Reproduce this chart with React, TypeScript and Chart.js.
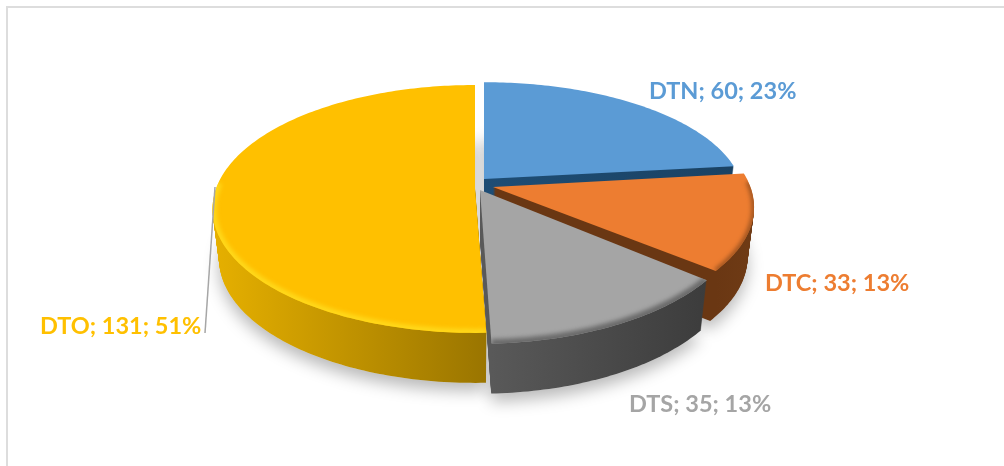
import { useEffect, useRef } from "react";
import { Chart, registerables } from "chart.js";

Chart.register(...registerables);

const categories = ["DTN", "DTC", "DTS", "DTO"];
const seriesValues = [60, 33, 35, 131];
const percentLabels = [23, 13, 13, 51];
const sliceColors = ["#5B9BD5", "#ED7D31", "#A5A5A5", "#FFC000"];

// Drawing layout of the tilted pie (not data).
const VIEW = { cx: 481, cy: 187, rx: 264, ry: 120.4, persp: 0.169, depth: 50, baseShrink: 0.025 };
const SLICE_STYLE = [
  { dx: 3, dy: -8, sx: 0.97, sy: 0.93, sideFrom: "#1E4D75", sideTo: "#1A4263", rim: null, rimWidth: 0 },
  { dx: 12, dy: 0, sx: 0.975, sy: 0.985, sideFrom: "#6A3713", sideTo: "#6F3B15", rim: "#9A5220", rimWidth: 5 },
  { dx: -1, dy: 3, sx: 0.985, sy: 1.05, sideFrom: "#595959", sideTo: "#3C3C3C", rim: "#6A6A6A", rimWidth: 9 },
  { dx: -6, dy: 1, sx: 0.98, sy: 1, sideFrom: "#E6B000", sideTo: "#9A7500", rim: "#FFD81A", rimWidth: 8 },
];
const LABEL_POS = [
  { x: 649, y: 99 },
  { x: 765, y: 291 },
  { x: 629, y: 412 },
  { x: 40, y: 334 },
];

type Pt = { x: number; y: number };

function project(i: number, a: number, r: number, z: number): Pt {
  const s = SLICE_STYLE[i];
  const u = Math.cos(a) * r * s.sx;
  const v = Math.sin(a) * r * s.sy;
  const w = 1 - VIEW.persp * v;
  const shrink = 1 - (VIEW.baseShrink * z) / VIEW.depth;
  return {
    x: VIEW.cx + s.dx + ((VIEW.rx * u) / w) * shrink,
    y: VIEW.cy + s.dy + (VIEW.ry * v) / w + z,
  };
}

function arcAngles(start: number, end: number): number[] {
  const n = Math.max(4, Math.ceil(((end - start) * 180) / Math.PI));
  const out: number[] = [];
  for (let k = 0; k <= n; k++) out.push(start + ((end - start) * k) / n);
  return out;
}

function slicePath(ctx: CanvasRenderingContext2D, i: number, angles: number[], z: number) {
  const tip = project(i, 0, 0, z);
  ctx.beginPath();
  ctx.moveTo(tip.x, tip.y);
  for (const a of angles) {
    const p = project(i, a, 1, z);
    ctx.lineTo(p.x, p.y);
  }
  ctx.closePath();
}

const pie3d = {
  id: "pie3d",
  beforeDatasetsDraw(chart: any) {
    const ctx: CanvasRenderingContext2D = chart.ctx;
    const arcs = chart.getDatasetMeta(0).data;
    const all = arcs.map((el: any) => arcAngles(el.startAngle, el.endAngle));

    // frame
    ctx.save();
    ctx.strokeStyle = "#DDDDDD";
    ctx.lineWidth = 2;
    ctx.beginPath();
    ctx.moveTo(7, 466);
    ctx.lineTo(7, 7);
    ctx.lineTo(1004, 7);
    ctx.stroke();
    ctx.restore();

    // soft ground shadow
    ctx.save();
    ctx.shadowColor = "rgba(0,0,0,0.28)";
    ctx.shadowBlur = 16;
    ctx.shadowOffsetY = 8;
    ctx.fillStyle = "#DEDEDE";
    for (let i = 0; i < arcs.length; i++) {
      slicePath(ctx, i, all[i], VIEW.depth);
      ctx.fill();
    }
    ctx.restore();

    for (let i = 0; i < arcs.length; i++) {
      const s = SLICE_STYLE[i];
      const xs = all[i].map((a: number) => project(i, a, 1, 0).x);
      const grad = ctx.createLinearGradient(Math.min(...xs), 0, Math.max(...xs), 0);
      grad.addColorStop(0, s.sideFrom);
      grad.addColorStop(1, s.sideTo);
      ctx.fillStyle = grad;
      for (let z = VIEW.depth; z > 0; z--) {
        slicePath(ctx, i, all[i], z);
        ctx.fill();
      }
      slicePath(ctx, i, all[i], 0);
      ctx.fillStyle = arcs[i].options.backgroundColor;
      ctx.fill();
      if (s.rim) {
        ctx.save();
        slicePath(ctx, i, all[i], 0);
        ctx.clip();
        ctx.filter = "blur(2px)";
        ctx.strokeStyle = s.rim;
        ctx.lineWidth = s.rimWidth;
        ctx.beginPath();
        let started = false;
        for (const a of all[i]) {
          if (Math.sin(a) < -0.05) continue;
          const p = project(i, a, 1, 0);
          if (!started) ctx.moveTo(p.x, p.y);
          else ctx.lineTo(p.x, p.y);
          started = true;
        }
        ctx.stroke();
        ctx.restore();
      }
    }

    // leader line
    ctx.save();
    ctx.strokeStyle = "#A6A6A6";
    ctx.lineWidth = 1.5;
    ctx.beginPath();
    ctx.moveTo(215, 187);
    ctx.lineTo(205, 333);
    ctx.stroke();
    ctx.restore();

    // data labels
    ctx.save();
    ctx.font = "bold 23.5px Lato";
    ctx.textAlign = "left";
    ctx.textBaseline = "alphabetic";
    categories.forEach((c, i) => {
      ctx.fillStyle = sliceColors[i];
      ctx.fillText(`${c}; ${seriesValues[i]}; ${percentLabels[i]}%`, LABEL_POS[i].x, LABEL_POS[i].y);
    });
    ctx.restore();
    return false;
  },
};

export default function App() {
  const ref = useRef<HTMLCanvasElement>(null);
  useEffect(() => {
    const chart = new Chart(ref.current as HTMLCanvasElement, {
      type: "pie",
      data: {
        labels: categories,
        datasets: [{ data: seriesValues, backgroundColor: sliceColors, borderWidth: 0 }],
      },
      options: {
        responsive: false,
        animation: false,
        plugins: { legend: { display: false }, tooltip: { enabled: false } },
      },
      plugins: [pie3d],
    } as any);
    return () => chart.destroy();
  }, []);
  return (
    <canvas
      ref={ref}
      width={1004}
      height={466}
      style={{ position: "absolute", left: 0, top: 0, width: 1004, height: 466, background: "#FFFFFF" }}
    />
  );
}
